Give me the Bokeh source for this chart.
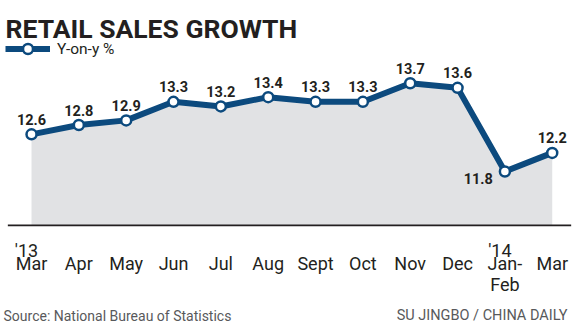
from bokeh.plotting import figure
from bokeh.models import Range1d, Label, Legend, LegendItem, ColumnDataSource
from bokeh.core.properties import value
from bokeh.embed import file_html
from bokeh.resources import INLINE

# ---- data ----
categories = ["Mar", "Apr", "May", "Jun", "Jul", "Aug", "Sept", "Oct", "Nov", "Dec", "Jan-\nFeb", "Mar"]
year_labels = ["'13", "", "", "", "", "", "", "", "", "", "'14", ""]
yoy = [12.6, 12.8, 12.9, 13.3, 13.2, 13.4, 13.3, 13.3, 13.7, 13.6, 11.8, 12.2]
value_labels = ["12.6", "12.8", "12.9", "13.3", "13.2", "13.4", "13.3", "13.3", "13.7", "13.6", "11.8", "12.2"]

# ---- styling ----
BLUE = "#0c4a7e"
FILL = "#e1e2e4"
TXT = "#231f20"
GREY = "#58595b"
BASE = 10.64  # visual baseline of the area

n = len(yoy)
idx = list(range(n))
min_v = min(yoy)
align = ["right" if v == min_v else "center" for v in yoy]
xoff = [-12 if v == min_v else 0 for v in yoy]
yoff = [7 if v == min_v else -15 for v in yoy]

src = ColumnDataSource(dict(x=idx, y=yoy, base=[BASE] * n, lab=value_labels,
                            align=align, xoff=xoff, yoff=yoff,
                            cat=categories, yr=year_labels))

p = figure(width=579, height=325, output_backend="svg", toolbar_location=None,
           x_range=Range1d(-0.655, 11.576), y_range=Range1d(8.486, 15.48),
           min_border=0, background_fill_color="white", border_fill_color="white")
p.axis.visible = False
p.grid.visible = False
p.outline_line_color = None

p.varea(x="x", y1="base", y2="y", source=src, fill_color=FILL)
p.segment(x0=[-0.5], y0=[BASE], x1=[n - 0.6], y1=[BASE], line_color=TXT, line_width=1.8)
ln = p.line("x", "y", source=src, line_color=BLUE, line_width=6, line_join="round")
sc = p.scatter("x", "y", source=src, size=10, fill_color="white", line_color=BLUE, line_width=2.5)

p.text("x", "y", text="lab", source=src, text_align="align", x_offset="xoff", y_offset="yoff",
       text_baseline="alphabetic", text_font=value("Roboto"), text_font_style="bold",
       text_font_size="14.5px", text_color=TXT)

# x category labels
p.text("x", "base", text="cat", source=src, text_align="center", y_offset=28,
       text_baseline="top", text_font=value("Roboto"), text_font_size="18px",
       text_color=TXT, text_line_height=1.0)
p.text("x", "base", text="yr", source=src, text_align="center", x_offset=-5, y_offset=25,
       text_baseline="alphabetic", text_font=value("Roboto"), text_font_size="18px",
       text_color=TXT)

# legend
legend = Legend(items=[LegendItem(label="Y-on-y %", renderers=[ln, sc])],
                location=(5, 264), glyph_width=45, glyph_height=25, label_standoff=7,
                label_text_font="Roboto", label_text_font_size="15.5px", label_text_color=TXT,
                padding=0, margin=0, border_line_color=None, background_fill_alpha=0,
                label_height=25)
p.add_layout(legend)

p.add_layout(Label(x=5, y=297, x_units="screen", y_units="screen", text="RETAIL SALES GROWTH",
                   text_font="Roboto", text_font_style="bold", text_font_size="26.5px",
                   text_color=TXT, text_baseline="alphabetic"))
p.add_layout(Label(x=3, y=10, x_units="screen", y_units="screen",
                   text="Source: National Bureau of Statistics",
                   text_font="Roboto", text_font_size="14px", text_color=GREY,
                   text_baseline="alphabetic"))
p.add_layout(Label(x=567, y=10, x_units="screen", y_units="screen",
                   text="SU JINGBO / CHINA DAILY", text_align="right",
                   text_font="Roboto", text_font_size="14.5px", text_color=GREY,
                   text_baseline="alphabetic"))

open("out.html", "w").write(file_html(p, INLINE))
